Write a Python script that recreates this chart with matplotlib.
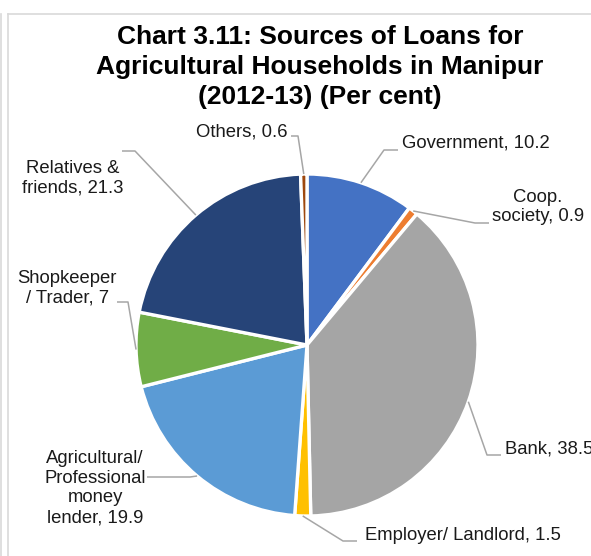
import numpy as np
import matplotlib.pyplot as plt
from matplotlib.lines import Line2D

plt.rcParams['font.family'] = ['Liberation Sans', 'DejaVu Sans']

W, H = 591, 556

sources = ['Government', 'Coop.\nsociety', 'Bank', 'Employer/ Landlord',
           'Agricultural/\nProfessional\nmoney\nlender', 'Shopkeeper\n/ Trader',
           'Relatives &\nfriends', 'Others']
shares = [10.2, 0.9, 38.5, 1.5, 19.9, 7, 21.3, 0.6]
share_text = ['10.2', '0.9', '38.5', '1.5', '19.9', '7', '21.3', '0.6']
colors = ['#4472C4', '#ED7D31', '#A5A5A5', '#FFC000',
          '#5B9BD5', '#70AD47', '#264478', '#9E480E']

# label layout in pixel coords (top-left origin): text x, text y, ha, elbow x, elbow y, line end x
label_pos = [
    (402, 143, 'left', 384, 150, 398),
    (538, 207, 'center', 475, 223, 489),
    (505, 449, 'left', 487, 455, 501),
    (365, 535, 'left', 343, 541, 357),
    (95, 488, 'center', 190, 477, 147),
    (67, 288, 'center', 128, 302, 117),
    (73, 178, 'center', 135, 151, 122),
    (287, 132, 'right', 298, 136, 291),
]

cx, cy, R = 307, 345, 171

fig = plt.figure(figsize=(W / 100, H / 100), dpi=100)
ax = fig.add_axes([0, 0, 1, 1])

wedges, _ = ax.pie(shares, colors=colors, startangle=90, counterclock=False,
                   center=(cx, H - cy), radius=R,
                   wedgeprops=dict(edgecolor='white', linewidth=2.4))
ax.set_xlim(0, W)
ax.set_ylim(0, H)
ax.axis('off')

for w, name, val, (tx, ty, ha, ex, ey, lx) in zip(wedges, sources, share_text, label_pos):
    mid = np.deg2rad((w.theta1 + w.theta2) / 2)
    ax_x = cx + R * np.cos(mid)
    ax_y = H - cy + R * np.sin(mid)
    ax.plot([ax_x, ex, lx], [ax_y, H - ey, H - ey], color='#A6A6A6', lw=1.1,
            solid_capstyle='butt')
    ax.text(tx, H - ty, f'{name}, {val}', ha=ha, va='center', fontsize=13.3,
            color='#1a1a1a', linespacing=1.22, multialignment='center')

ax.text(320, H - 67, 'Chart 3.11: Sources of Loans for\nAgricultural Households in Manipur\n(2012-13) (Per cent)',
        ha='center', va='center', fontsize=19, fontweight='bold', linespacing=1.3)

# chart frame
for xs, ys in [([8, 8], [0, H - 14]), ([8, W], [H - 14, H - 14]), ([1.5, 1.5], [0, H - 14])]:
    fig.add_artist(Line2D(np.array(xs) / W, np.array(ys) / H, color='#D9D9D9', lw=1.2))

fig.savefig('out.png', dpi=100)
